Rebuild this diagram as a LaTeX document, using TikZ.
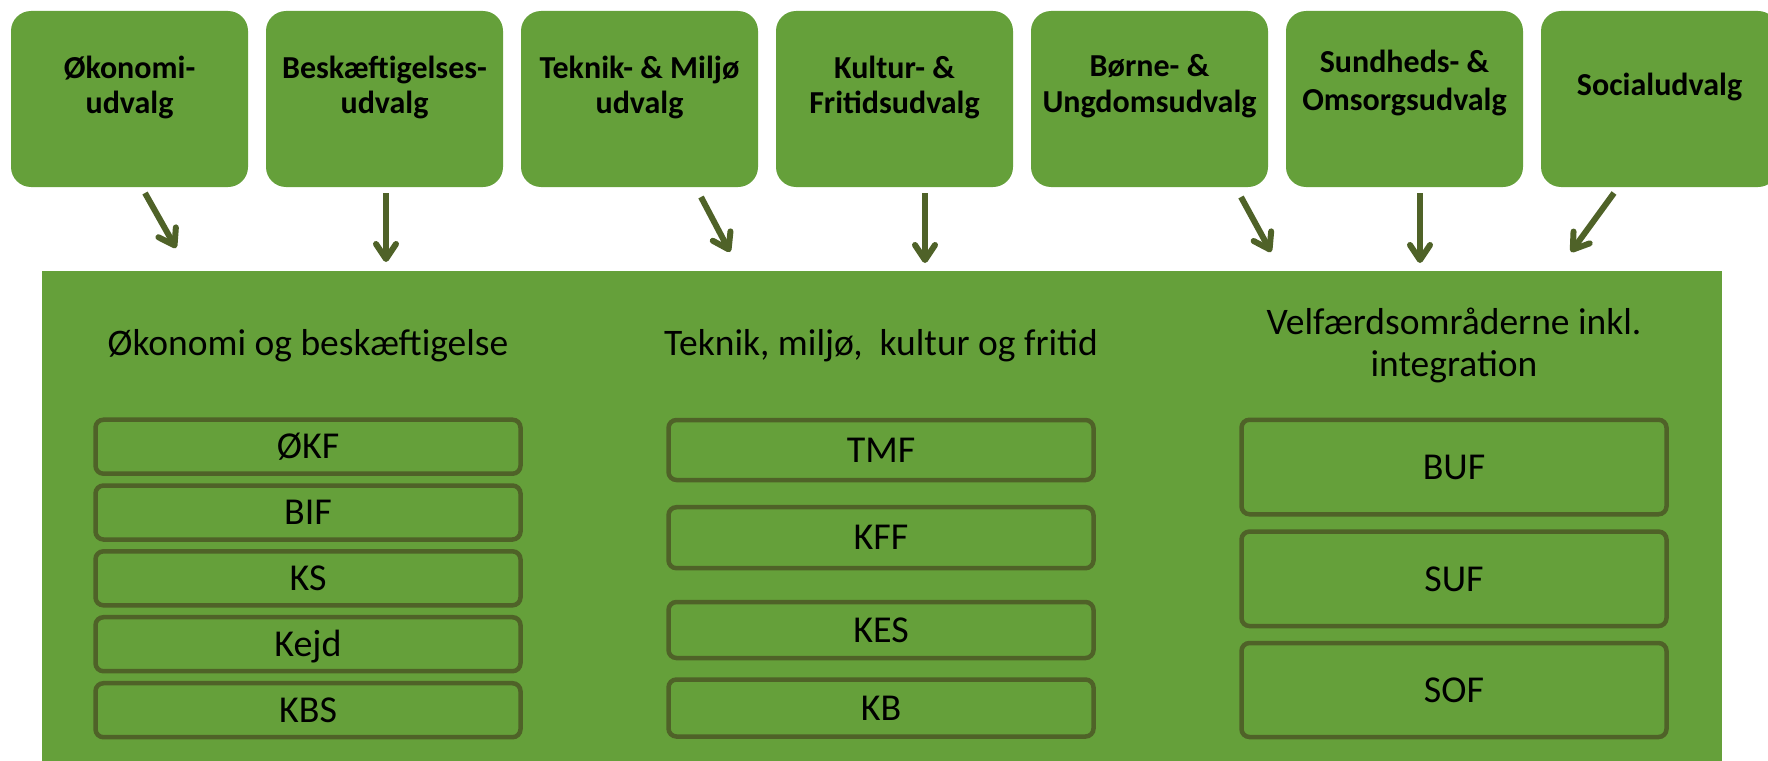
\documentclass[tikz,border=0pt]{standalone}
\usepackage{fontspec}
\setmainfont{Carlito}
\usetikzlibrary{arrows.meta}
\definecolor{boxgreen}{RGB}{101,160,58}
\definecolor{darkolive}{RGB}{79,98,40}
\newcommand{\toptxt}[2]{\parbox[c][176pt][t]{232pt}{\centering\rule{0pt}{#1}#2}}
\begin{document}
\begin{tikzpicture}[x=1pt,y=-1pt,
  topbox/.style={fill=boxgreen, rounded corners=20pt, inner sep=0pt,
    minimum width=237pt, minimum height=176pt,
    font=\bfseries\fontsize{32}{35}\selectfont},
  panelbox/.style={fill=boxgreen, inner sep=0pt, anchor=north west},
  ibox/.style={draw=darkolive, line width=4.5pt, rounded corners=8pt,
    inner sep=0pt, minimum width=425pt,
    font=\fontsize{38}{45}\selectfont, text height=24.5pt, text depth=0pt},
  head/.style={font=\fontsize{37.5}{42}\selectfont, inner sep=0pt, anchor=base},
  flow/.style={draw=darkolive, line width=6pt,
    -{Straight Barb[length=15pt,width=20pt,round]}}
]
\useasboundingbox (0,0) rectangle (1768,760);
\clip (0,0) rectangle (1768,760);

% committees
\node[topbox] (u1) at (129.5,99)  {\toptxt{67pt}{Økonomi-\\udvalg}};
\node[topbox] (u2) at (384.5,99)  {\toptxt{67pt}{Beskæftigelses-\\udvalg}};
\node[topbox] (u3) at (639.5,99)  {\toptxt{67pt}{Teknik- \& Miljø\\udvalg}};
\node[topbox] (u4) at (894.5,99)  {\toptxt{67pt}{Kultur- \&\\Fritidsudvalg}};
\node[topbox] (u5) at (1149.5,99) {\toptxt{66pt}{Børne- \&\\Ungdomsudvalg}};
\node[topbox] (u6) at (1404.5,99) {\toptxt{62pt}{Sundheds- \&\\[2pt]Omsorgsudvalg}};
\node[topbox] (u7) at (1659.5,99) {\toptxt{84pt}{Socialudvalg}};

% big panel
\node[panelbox, minimum width=1680pt, minimum height=520pt] (panel) at (42,271) {};

% arrows
\coordinate (a1s) at (145,193);  \coordinate (a1e) at (176,248);
\coordinate (a2s) at (386,193);  \coordinate (a2e) at (386,262);
\coordinate (a3s) at (701,197);  \coordinate (a3e) at (730,252);
\coordinate (a4s) at (925,193);  \coordinate (a4e) at (925,263);
\coordinate (a5s) at (1241,197); \coordinate (a5e) at (1271,252);
\coordinate (a6s) at (1420,193); \coordinate (a6e) at (1420,263);
\coordinate (a7s) at (1614,193); \coordinate (a7e) at (1571,252);
\draw[flow] (a1s) -- (a1e);
\draw[flow] (a2s) -- (a2e);
\draw[flow] (a3s) -- (a3e);
\draw[flow] (a4s) -- (a4e);
\draw[flow] (a5s) -- (a5e);
\draw[flow] (a6s) -- (a6e);
\draw[flow] (a7s) -- (a7e);

% headings
\node[head] (h1) at (308,355) {Økonomi og beskæftigelse};
\node[head] (h2) at (881,355) {Teknik, miljø,\ \ kultur og fritid};
\node[head] (h3) at (1454,334) {\parbox[t]{440pt}{\centering Velfærdsområderne inkl.\\integration}};

% column 1
\node[ibox, minimum height=54pt] (okf)  at (308,446.7) {ØKF};
\node[ibox, minimum height=54pt] (bif)  at (308,512.5) {BIF};
\node[ibox, minimum height=54pt] (ks)   at (308,578.3) {KS};
\node[ibox, minimum height=54pt] (kejd) at (308,644.2) {Kejd};
\node[ibox, minimum height=54pt] (kbs)  at (308,710.2) {KBS};

% column 2
\node[ibox, minimum height=60pt] (tmf) at (881,450)   {TMF};
\node[ibox, minimum height=61pt] (kff) at (881,537.7) {KFF};
\node[ibox, minimum height=56pt] (kes) at (881,630)   {KES};
\node[ibox, minimum height=57pt] (kb)  at (881,708)   {KB};

% column 3
\node[ibox, minimum height=94.5pt] (buf) at (1454,467)   {BUF};
\node[ibox, minimum height=94.5pt] (suf) at (1454,578.8) {SUF};
\node[ibox, minimum height=94pt]   (sof) at (1454,690)   {SOF};
\end{tikzpicture}
\end{document}
